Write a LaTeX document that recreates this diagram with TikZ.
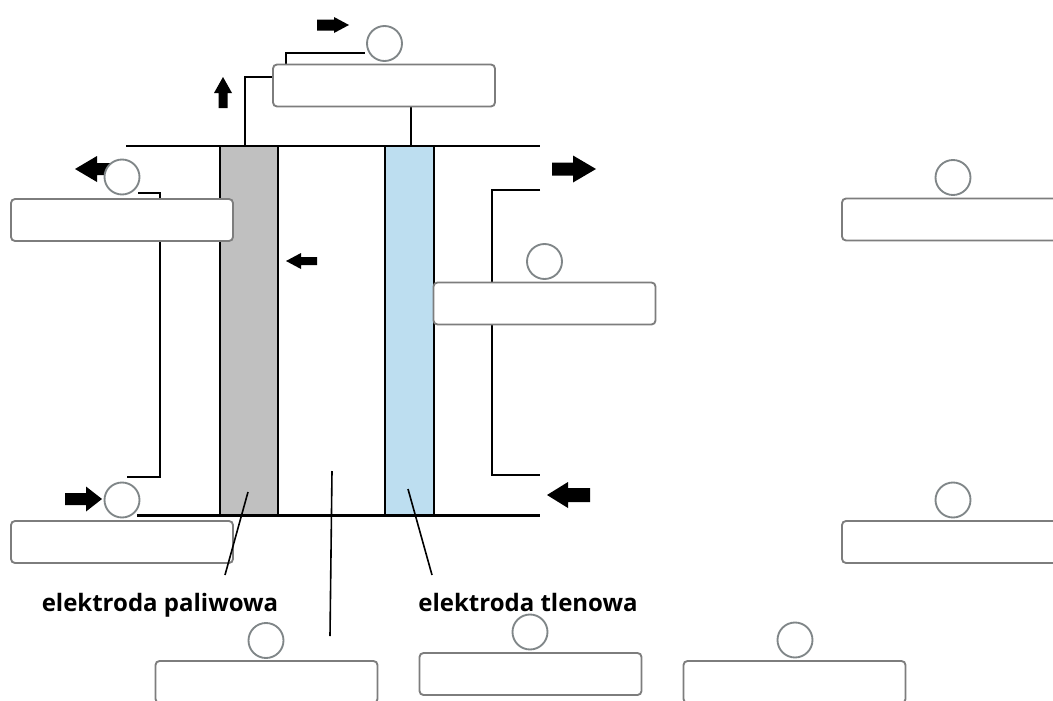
\documentclass[tikz,border=0pt]{standalone}
\usepackage{fontspec}
\setmainfont{Open Sans}
\definecolor{boxline}{RGB}{125,125,125}
\definecolor{ringline}{RGB}{128,134,136}
\definecolor{anodefill}{RGB}{192,192,192}
\definecolor{cathodefill}{RGB}{189,222,240}
% block arrow along x: tail x, centre y, tip x, shaft half-width, head half-width, head base x
\newcommand\hblock[6]{\fill ({#1},{#2-#4}) -- ({#6},{#2-#4}) -- ({#6},{#2-#5}) -- ({#3},{#2}) -- ({#6},{#2+#5}) -- ({#6},{#2+#4}) -- ({#1},{#2+#4}) -- cycle;}
% block arrow along y: centre x, tail y, tip y, shaft half-width, head half-width, head base y
\newcommand\vblock[6]{\fill ({#1-#4},{#2}) -- ({#1-#4},{#6}) -- ({#1-#5},{#6}) -- ({#1},{#3}) -- ({#1+#5},{#6}) -- ({#1+#4},{#6}) -- ({#1+#4},{#2}) -- cycle;}
\begin{document}
\begin{tikzpicture}[x=0.75pt,y=-0.75pt,
  wire/.style={line width=1.6pt,black},
  leader/.style={line width=1.2pt,black},
  infobox/.style={draw=boxline,line width=1.4pt,fill=white,rounded corners=3pt,
    minimum width=166.5pt,minimum height=31.5pt,inner sep=0pt},
  ring/.style={draw=ringline,line width=1.4pt,fill=white,circle,minimum size=26.25pt,inner sep=0pt},
  electrode/.style={draw=black,line width=1.6pt,minimum height=276.75pt,inner sep=0pt},
  label/.style={font=\bfseries\fontsize{18}{20}\selectfont,anchor=base,inner sep=0pt}]
\useasboundingbox (0,0) rectangle (1053,700);
\clip (0,0) rectangle (1053,700);

% cell walls
\coordinate (wallTL) at (126,146);
\coordinate (wallTR) at (540,146);
\coordinate (wallBL) at (137,515.5);
\coordinate (wallBR) at (540,515.5);
\draw[wire] (wallTL) -- (wallTR);
\draw[wire] (wallBL) -- (wallBR);

% electrodes
\node[electrode,fill=anodefill,minimum width=43.5pt] (anode) at (249,330.5) {};
\node[electrode,fill=cathodefill,minimum width=36.75pt] (cathode) at (409.5,330.5) {};

% flow arrows
\hblock{317}{25}{349}{5.5}{8}{334}
\vblock{223}{108}{77}{4.5}{9}{93}
\hblock{110}{169}{75}{6}{13}{97}
\hblock{65}{499}{102}{6}{12.5}{86}
\hblock{317}{261}{286}{4}{8}{301}
\hblock{552}{169}{596}{6.5}{13.5}{573}
\hblock{590}{495}{547}{7}{13}{568}

% external circuit wires
\coordinate (topA) at (245,77);
\coordinate (topB) at (286,53);
\coordinate (topC) at (365,53);
\draw[wire] (245,146) -- (topA) -- (273,77);
\draw[wire] (411,146) -- (411,107);
\draw[wire] (286,64) -- (topB) -- (topC);

% fuel side channel
\coordinate (fuelOut) at (138,193);
\coordinate (fuelIn) at (127,477);
\draw[wire] (fuelOut) -- (160,193) -- (160,477) -- (fuelIn);

% oxygen side channel
\coordinate (oxOut) at (540,190);
\coordinate (oxIn) at (540,475);
\draw[wire] (oxOut) -- (492,190) -- (492,475) -- (oxIn);

% answer boxes
\node[infobox] (bTop) at (384,85.5) {};
\node[infobox] (bFuelOut) at (122,220) {};
\node[infobox] (bFuelIn) at (122,542) {};
\node[infobox] (bOx) at (544.5,303.5) {};
\node[infobox] (bRightA) at (953,219.5) {};
\node[infobox] (bRightB) at (953,542) {};
\node[infobox] (bLow1) at (266.5,682) {};
\node[infobox] (bLow2) at (530.5,674) {};
\node[infobox] (bLow3) at (794.5,682) {};

% answer circles
\node[ring] (cTop) at (384.5,43.5) {};
\node[ring] (cFuelOut) at (122,177) {};
\node[ring] (cFuelIn) at (122,500) {};
\node[ring] (cOx) at (544.5,261.5) {};
\node[ring] (cRightA) at (953,177.5) {};
\node[ring] (cRightB) at (953,500) {};
\node[ring] (cLow1) at (266,640.5) {};
\node[ring] (cLow2) at (530,632) {};
\node[ring] (cLow3) at (795,640) {};

% labels and leaders
\node[label] (lFuel) at (160,611) {elektroda paliwowa};
\node[label] (lOx) at (528,611) {elektroda tlenowa};
\coordinate (pFuelA) at (248,492);
\coordinate (pFuelB) at (225,575);
\coordinate (pMidA) at (332,471);
\coordinate (pMidB) at (330,636);
\coordinate (pOxA) at (408,489);
\coordinate (pOxB) at (432,575);
\draw[leader] (pFuelA) -- (pFuelB);
\draw[leader] (pMidA) -- (pMidB);
\draw[leader] (pOxA) -- (pOxB);
\end{tikzpicture}
\end{document}
